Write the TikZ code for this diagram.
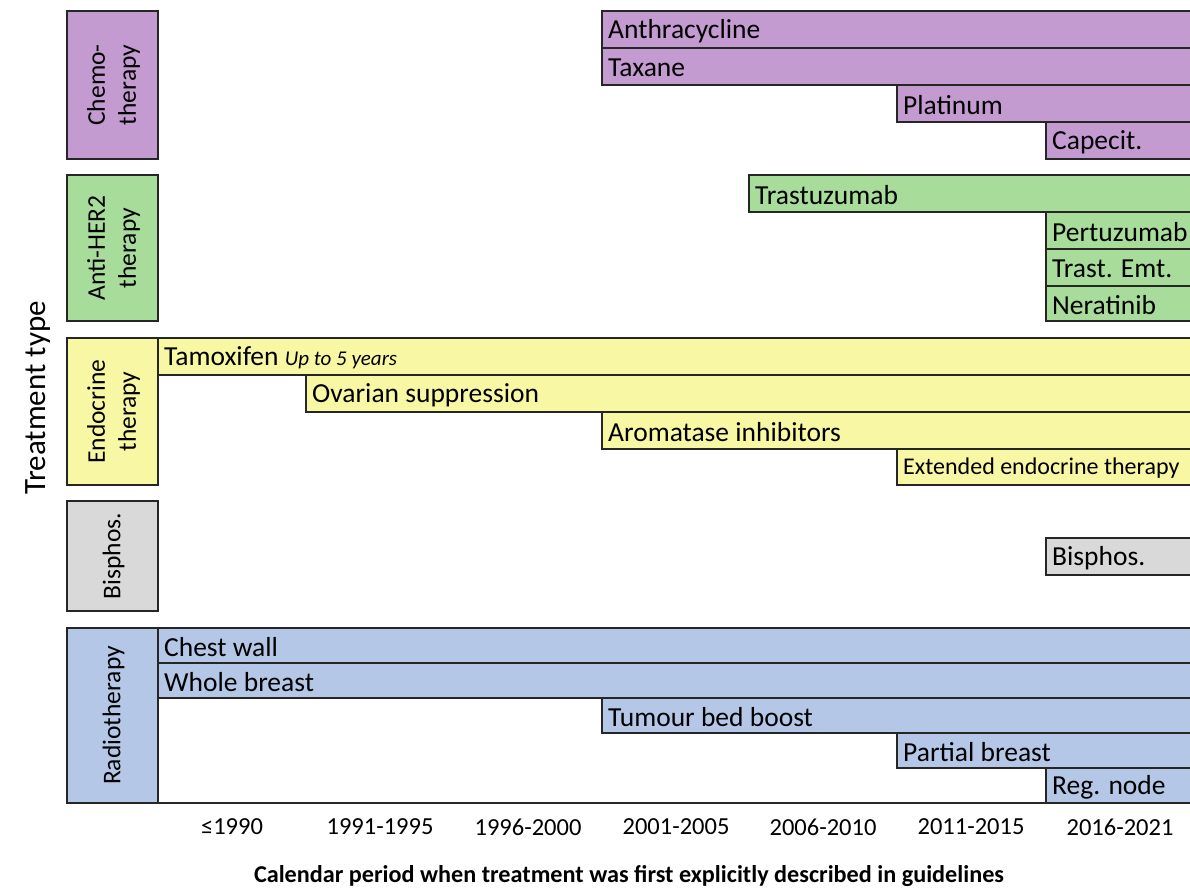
\documentclass[tikz,border=0pt]{standalone}
\usepackage{fontspec}
\setmainfont{Carlito}
\usepackage{xcolor}
\definecolor{chemo}{HTML}{C39BD0}
\definecolor{her}{HTML}{A8DC9A}
\definecolor{endo}{HTML}{F8F8A4}
\definecolor{bisph}{HTML}{D9D9D9}
\definecolor{radio}{HTML}{B4C7E7}

\tikzset{
  bar/.style={line width=1.2pt, draw=black!85},
  barlabel/.style={anchor=west, inner sep=6pt, font=\fontsize{27.5}{32}\selectfont},
  catlabel/.style={rotate=90, align=center, font=\fontsize{25.5}{31}\selectfont},
  period/.style={font=\fontsize{24.5}{29}\selectfont}
}

\begin{document}
\begin{tikzpicture}[x=1pt,y=-1pt]
\useasboundingbox (0,0) rectangle (1190,887);
\clip (0,0) rectangle (1190,887);

% treatment type boxes
\filldraw[bar,fill=chemo] (67,11) rectangle (158,159);
\node[catlabel] (chemo) at (113.5,85) {Chemo-\\therapy};
\filldraw[bar,fill=her] (67,175) rectangle (158,321);
\node[catlabel] (her2) at (113.5,248) {Anti-HER2\\therapy};
\filldraw[bar,fill=endo] (67,338) rectangle (158,485);
\node[catlabel] (endo) at (113.5,411.5) {Endocrine\\therapy};
\filldraw[bar,fill=bisph] (67,501) rectangle (158,611);
\node[catlabel] (bisph) at (113.5,556) {Bisphos.};
\filldraw[bar,fill=radio] (67,628) rectangle (158,803);
\node[catlabel] (radio) at (113.5,715.5) {Radiotherapy};

% chemotherapy
\filldraw[bar,fill=chemo] (602,11) rectangle (1200,48);
\node[barlabel] (anth) at (602,31) {Anthracycline};
\filldraw[bar,fill=chemo] (602,48) rectangle (1200,85);
\node[barlabel] (tax) at (602,68) {Taxane};
\filldraw[bar,fill=chemo] (897,85) rectangle (1200,122);
\node[barlabel] (plat) at (897,105) {Platinum};
\filldraw[bar,fill=chemo] (1046,122) rectangle (1200,159);
\node[barlabel] (cape) at (1046,142) {Capecit.};

% anti-HER2
\filldraw[bar,fill=her] (749,175) rectangle (1200,212);
\node[barlabel] (tras) at (749,195) {Trastuzumab};
\filldraw[bar,fill=her] (1046,212) rectangle (1200,249);
\node[barlabel] (pert) at (1046,232) {Pertuzumab};
\filldraw[bar,fill=her] (1046,249) rectangle (1200,286);
\node[barlabel] (temt) at (1046,269) {Trast. Emt.};
\filldraw[bar,fill=her] (1046,286) rectangle (1200,321);
\node[barlabel] (nera) at (1046,305) {Neratinib};

% endocrine
\filldraw[bar,fill=endo] (158,338) rectangle (1200,375);
\node[barlabel] (tamo) at (158,358) {Tamoxifen {\fontsize{21}{24}\selectfont\itshape Up to 5 years}};
\filldraw[bar,fill=endo] (306,375) rectangle (1200,412);
\node[barlabel] (ovar) at (306,395) {Ovarian suppression};
\filldraw[bar,fill=endo] (602,412) rectangle (1200,449);
\node[barlabel] (arom) at (602,432) {Aromatase inhibitors};
\filldraw[bar,fill=endo] (897,449) rectangle (1200,485);
\node[barlabel,font=\fontsize{24}{28}\selectfont] (ext) at (897,468) {Extended endocrine therapy};

% bisphosphonates
\filldraw[bar,fill=bisph] (1046,538) rectangle (1200,575);
\node[barlabel] (bis) at (1046,558) {Bisphos.};

% radiotherapy
\filldraw[bar,fill=radio] (158,628) rectangle (1200,663);
\node[barlabel] (chest) at (158,647) {Chest wall};
\filldraw[bar,fill=radio] (158,663) rectangle (1200,698);
\node[barlabel] (whole) at (158,682) {Whole breast};
\filldraw[bar,fill=radio] (602,698) rectangle (1200,733);
\node[barlabel] (boost) at (602,717) {Tumour bed boost};
\filldraw[bar,fill=radio] (897,733) rectangle (1200,768);
\node[barlabel] (part) at (897,752) {Partial breast};
\filldraw[bar,fill=radio] (1046,768) rectangle (1200,803);
\node[barlabel] (node) at (1046,787) {Reg. node};
\draw[bar] (158,803) -- (1046,803);

% periods
\node[period] (p1) at (232,827) {≤1990};
\node[period] (p2) at (380,827) {1991-1995};
\node[period] (p3) at (528,827) {1996-2000};
\node[period] (p4) at (676,827) {2001-2005};
\node[period] (p5) at (823,827) {2006-2010};
\node[period] (p6) at (971,827) {2011-2015};
\node[period] (p7) at (1120,827) {2016-2021};

% axis titles
\node[rotate=90,font=\fontsize{31}{36}\selectfont] (ytitle) at (38,398) {Treatment type};
\node[font=\fontsize{24.2}{28}\selectfont\bfseries] (xtitle) at (629,876) {Calendar period when treatment was first explicitly described in guidelines};
\end{tikzpicture}
\end{document}
